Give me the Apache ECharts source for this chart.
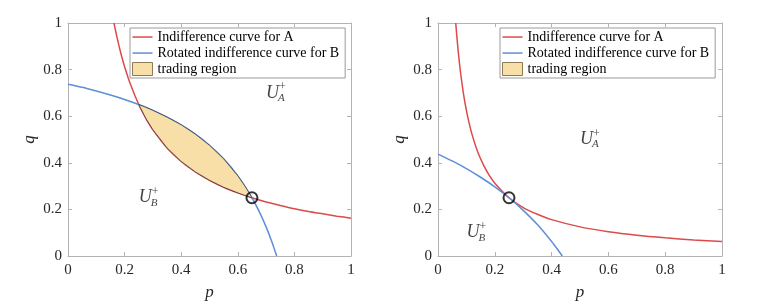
<!DOCTYPE html>
<html><head><meta charset="utf-8">
<script src="https://cdn.jsdelivr.net/npm/echarts@6/dist/echarts.min.js"></script>
<style>html,body{margin:0;padding:0;background:#fff}#c{width:773px;height:306px}</style>
</head><body><div id="c"></div>
<script>
// ---- tick labels ----
const tickLabels = ['0', '0.2', '0.4', '0.6', '0.8', '1'];
const legendNames = ['Indifference curve for A', 'Rotated indifference curve for B', 'trading region'];

// ---- left panel ----
const leftA_p = [0.1625, 0.17, 0.18, 0.19, 0.2, 0.22, 0.25, 0.28, 0.3, 0.35, 0.4, 0.45, 0.5, 0.55, 0.6, 0.65, 0.7, 0.75, 0.8, 0.85, 0.9, 0.95, 1.0];
const leftA_q = [1.0, 0.956, 0.903, 0.855, 0.8125, 0.739, 0.65, 0.58, 0.542, 0.464, 0.406, 0.361, 0.325, 0.295, 0.271, 0.25, 0.232, 0.217, 0.203, 0.191, 0.181, 0.171, 0.1625];
const leftB_p = [0, 0.05, 0.1, 0.15, 0.2, 0.25, 0.3, 0.35, 0.4, 0.45, 0.5, 0.55, 0.6, 0.65, 0.68, 0.7, 0.72, 0.7375];
const leftB_q = [0.7375, 0.724, 0.708, 0.691, 0.672, 0.65, 0.625, 0.596, 0.5625, 0.523, 0.475, 0.417, 0.344, 0.25, 0.18, 0.125, 0.0625, 0];
const region_p = [0.25, 0.275, 0.3, 0.35, 0.4, 0.45, 0.5, 0.55, 0.6, 0.625, 0.64, 0.65];
const region_lower = [0.65, 0.591, 0.542, 0.464, 0.406, 0.361, 0.325, 0.295, 0.271, 0.26, 0.254, 0.25];
const region_upper = [0.65, 0.638, 0.625, 0.596, 0.563, 0.523, 0.475, 0.417, 0.344, 0.30, 0.271, 0.25];
const leftPoint = [0.65, 0.25];
const leftUA = [0.7, 0.7];
const leftUB = [0.25, 0.25];

// ---- right panel ----
const rightA_p = [0.0625, 0.065, 0.07, 0.075, 0.08, 0.09, 0.1, 0.11, 0.12, 0.14, 0.16, 0.18, 0.2, 0.25, 0.3, 0.35, 0.4, 0.5, 0.6, 0.7, 0.8, 0.9, 1.0];
const rightA_q = [1.0, 0.962, 0.893, 0.833, 0.781, 0.694, 0.625, 0.568, 0.521, 0.446, 0.391, 0.347, 0.3125, 0.25, 0.208, 0.179, 0.156, 0.125, 0.104, 0.089, 0.078, 0.069, 0.0625];
const rightB_p = [0, 0.05, 0.1, 0.15, 0.2, 0.25, 0.3, 0.35, 0.4, 0.42, 0.4375];
const rightB_q = [0.4375, 0.408, 0.375, 0.338, 0.297, 0.25, 0.196, 0.135, 0.0625, 0.030, 0];
const rightPoint = [0.25, 0.25];
const rightUA = [0.5, 0.5];
const rightUB = [0.1, 0.1];

const RED = '#dc4a4a', BLUE = '#5d8fd6', FILL = '#f8dfa8';
const FONT = 'Liberation Serif';
const zip = (a, b) => a.map((v, i) => [v, b[i]]);
const fmt = v => tickLabels[Math.round(v * 5)];

function xAx(g, pos) {
  const bottom = pos === 'bottom';
  return {
    type: 'value', gridIndex: g, position: pos, min: 0, max: 1, interval: 0.2,
    axisLine: { show: true, onZero: false, lineStyle: { color: '#b3b3b3', width: 1 } },
    axisTick: { show: true, inside: true, length: 4, lineStyle: { color: '#b3b3b3' } },
    splitLine: { show: false },
    axisLabel: { show: bottom, formatter: fmt, fontFamily: FONT, fontSize: 15, color: '#262626', margin: 7 },
    name: bottom ? 'p' : '', nameLocation: 'middle', nameGap: 28,
    nameTextStyle: { fontFamily: FONT, fontStyle: 'italic', fontSize: 17, color: '#262626' }
  };
}
function yAx(g, pos) {
  const left = pos === 'left';
  return {
    type: 'value', gridIndex: g, position: pos, min: 0, max: 1, interval: 0.2,
    axisLine: { show: true, onZero: false, lineStyle: { color: '#b3b3b3', width: 1 } },
    axisTick: { show: true, inside: true, length: 4, lineStyle: { color: '#b3b3b3' } },
    splitLine: { show: false },
    axisLabel: { show: left, formatter: fmt, fontFamily: FONT, fontSize: 15, color: '#262626', margin: 6 },
    name: left ? 'q' : '', nameLocation: 'middle', nameGap: 30, nameRotate: 90,
    nameTextStyle: { fontFamily: FONT, fontStyle: 'italic', fontSize: 17, color: '#262626' }
  };
}

function lineS(name, data, color, ax) {
  return { type: 'line', name, data, xAxisIndex: ax, yAxisIndex: ax, symbol: 'none', smooth: 0.2,
    lineStyle: { color, width: 1.5 }, itemStyle: { color }, z: 3, silent: true };
}
function pointS(pt, ax) {
  return { type: 'scatter', data: [pt], xAxisIndex: ax, yAxisIndex: ax, symbol: 'circle', symbolSize: 11,
    itemStyle: { color: 'rgba(0,0,0,0)', borderColor: '#000', borderWidth: 2 }, z: 10, silent: true };
}
function uLabelS(pos, sub, ax) {
  const base = { align: 'left', verticalAlign: 'middle', fontFamily: FONT, color: '#111' };
  return { type: 'scatter', xAxisIndex: ax, yAxisIndex: ax, symbolSize: 0, silent: true, z: 11,
    data: [
      { value: pos, label: { show: true, position: 'inside', formatter: 'U', offset: [0, 0], ...base, fontStyle: 'italic', fontSize: 18 } },
      { value: pos, label: { show: true, position: 'inside', formatter: '+', offset: [13, -6], ...base, fontSize: 12 } },
      { value: pos, label: { show: true, position: 'inside', formatter: sub, offset: [12, 5], ...base, fontStyle: 'italic', fontSize: 11 } }
    ] };
}
const LINE_ICON = 'path://M0,0 M0,5.8 L20,5.8 L20,7.3 L0,7.3 Z M20,13';
function legendCfg(left) {
  return {
    left, top: 28, orient: 'vertical', selectedMode: false,
    itemWidth: 20, itemHeight: 13, itemGap: 2, padding: [2, 6, 2, 2],
    borderColor: '#9a9a9a', borderWidth: 1, backgroundColor: '#fff',
    textStyle: { fontFamily: FONT, fontSize: 14, color: '#000' },
    data: [
      { name: legendNames[0], icon: LINE_ICON, itemStyle: { color: RED, borderWidth: 0 } },
      { name: legendNames[1], icon: LINE_ICON, itemStyle: { color: BLUE, borderWidth: 0 } },
      { name: legendNames[2], icon: 'rect', itemStyle: { color: FILL, borderColor: '#8c7b55', borderWidth: 1 } }
    ]
  };
}

const regionSeries = {
  type: 'custom', name: legendNames[2], xAxisIndex: 0, yAxisIndex: 0, z: 5, silent: true,
  itemStyle: { color: FILL },
  data: [[region_p[0], region_lower[0]]],
  renderItem: (params, api) => {
    const pts = [];
    region_p.forEach((p, i) => pts.push(api.coord([p, region_upper[i]])));
    for (let i = region_p.length - 1; i >= 0; i--) pts.push(api.coord([region_p[i], region_lower[i]]));
    return { type: 'polygon', shape: { points: pts }, style: { fill: FILL, stroke: 'rgba(30,30,50,0.65)', lineWidth: 1 } };
  }
};

const chart = echarts.init(document.getElementById('c'), null, { renderer: 'canvas' });
chart.setOption({
  animation: false,
  grid: [
    { left: 68, top: 23, width: 283, height: 238 },
    { left: 438, top: 23, width: 284, height: 238 }
  ],
  xAxis: [xAx(0, 'bottom'), xAx(1, 'bottom'), xAx(0, 'top'), xAx(1, 'top')],
  yAxis: [yAx(0, 'left'), yAx(1, 'left'), yAx(0, 'right'), yAx(1, 'right')],
  legend: [legendCfg(130), legendCfg(500)],
  series: [
    lineS(legendNames[0], zip(leftA_p, leftA_q), RED, 0),
    lineS(legendNames[1], zip(leftB_p, leftB_q), BLUE, 0),
    regionSeries,
    pointS(leftPoint, 0),
    uLabelS(leftUA, 'A', 0),
    uLabelS(leftUB, 'B', 0),
    lineS(legendNames[0], zip(rightA_p, rightA_q), RED, 1),
    lineS(legendNames[1], zip(rightB_p, rightB_q), BLUE, 1),
    pointS(rightPoint, 1),
    uLabelS(rightUA, 'A', 1),
    uLabelS(rightUB, 'B', 1)
  ]
});
</script></body></html>
